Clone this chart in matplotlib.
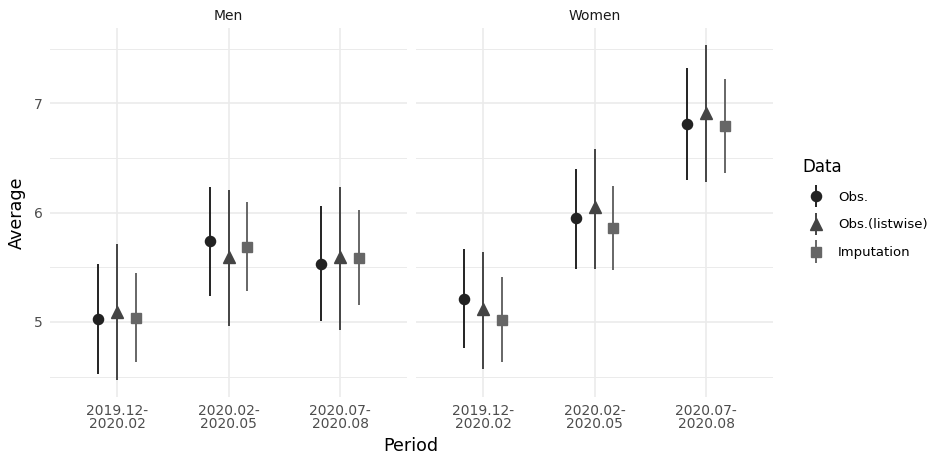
import matplotlib
matplotlib.use("Agg")
import matplotlib.pyplot as plt
from matplotlib.legend_handler import HandlerErrorbar
import numpy as np

plt.rcParams['font.family'] = ['DejaVu Sans', 'Noto Sans CJK JP']

periods = ["2019.12-\n2020.02", "2020.02-\n2020.05", "2020.07-\n2020.08"]
panels = ["Men", "Women"]
series = ["Obs.", "Obs.(listwise)", "Imputation"]

# Men
men_obs_mean = [5.025, 5.74, 5.535]
men_obs_lo = [4.52, 5.24, 5.01]
men_obs_hi = [5.53, 6.235, 6.06]
men_lw_mean = [5.09, 5.59, 5.59]
men_lw_lo = [4.47, 4.965, 4.93]
men_lw_hi = [5.71, 6.205, 6.235]
men_imp_mean = [5.035, 5.69, 5.585]
men_imp_lo = [4.63, 5.28, 5.16]
men_imp_hi = [5.445, 6.10, 6.02]

# Women
women_obs_mean = [5.213, 5.948, 6.814]
women_obs_lo = [4.76, 5.488, 6.30]
women_obs_hi = [5.668, 6.40, 7.32]
women_lw_mean = [5.116, 6.05, 6.91]
women_lw_lo = [4.567, 5.488, 6.28]
women_lw_hi = [5.638, 6.58, 7.53]
women_imp_mean = [5.018, 5.86, 6.79]
women_imp_lo = [4.637, 5.476, 6.36]
women_imp_hi = [5.41, 6.245, 7.22]

data = {
    "Men": [(men_obs_mean, men_obs_lo, men_obs_hi),
            (men_lw_mean, men_lw_lo, men_lw_hi),
            (men_imp_mean, men_imp_lo, men_imp_hi)],
    "Women": [(women_obs_mean, women_obs_lo, women_obs_hi),
              (women_lw_mean, women_lw_lo, women_lw_hi),
              (women_imp_mean, women_imp_lo, women_imp_hi)],
}

colors = ["#222222", "#444444", "#666666"]
markers = ["o", "^", "s"]
msizes = [7.3, 8.3, 7.0]
offsets = [-1/6, 0, 1/6]

fig = plt.figure(figsize=(9.33, 4.57), dpi=100)
W, H = 933, 457
axes = []
for i, (x0, x1) in enumerate([(50, 407), (416, 773)]):
    ax = fig.add_axes([x0 / W, 1 - 397 / H, (x1 - x0) / W, (397 - 28) / H])
    axes.append(ax)

handles = []
for pi, (ax, name) in enumerate(zip(axes, panels)):
    x = np.arange(1, len(periods) + 1)
    for si in range(3):
        m, lo, hi = [np.array(v) for v in data[name][si]]
        eb = ax.errorbar(x + offsets[si], m, yerr=[m - lo, hi - m], fmt=markers[si],
                         color=colors[si], ecolor=colors[si], elinewidth=1.4,
                         markersize=msizes[si], capsize=0, zorder=3,
                         label=series[si])
        if pi == 0:
            handles.append(eb)
    ax.set_xlim(0.4, 3.6)
    ax.set_ylim(4.314, 7.689)
    ax.set_xticks(x)
    ax.set_xticklabels(periods, fontsize=10, color="#4d4d4d", linespacing=0.9)
    ax.set_yticks([5, 6, 7])
    ax.set_yticks([4.5, 5.5, 6.5, 7.5], minor=True)
    if pi == 0:
        ax.set_yticklabels(["5", "6", "7"], fontsize=10, color="#4d4d4d")
    else:
        ax.set_yticklabels([])
    ax.tick_params(axis="both", which="both", length=0, pad=5)
    ax.grid(True, which="major", color="#ebebeb", linewidth=1.2, zorder=0)
    ax.grid(True, which="minor", axis="y", color="#ebebeb", linewidth=0.7, zorder=0)
    ax.set_axisbelow(True)
    for s in ax.spines.values():
        s.set_visible(False)
    ax.set_title(name, fontsize=10, color="#1a1a1a", pad=6)

fig.text(17 / W, 1 - 213 / H, "Average", rotation=90, ha="center", va="center",
         fontsize=12.6, color="black")
fig.text(411 / W, 1 - 446 / H, "Period", ha="center", va="center",
         fontsize=12.6, color="black")

leg = fig.legend(handles=handles, labels=series, loc="upper left",
                 bbox_to_anchor=(791 / W, 1 - 146 / H), frameon=False,
                 title="Data", title_fontsize=12, fontsize=9.5,
                 handlelength=2.0, handletextpad=0.65, labelspacing=1.12,
                 alignment="left",
                 handler_map={type(handles[0]): HandlerErrorbar(yerr_size=0.85)})

fig.savefig("out.png", dpi=100, facecolor="white")
